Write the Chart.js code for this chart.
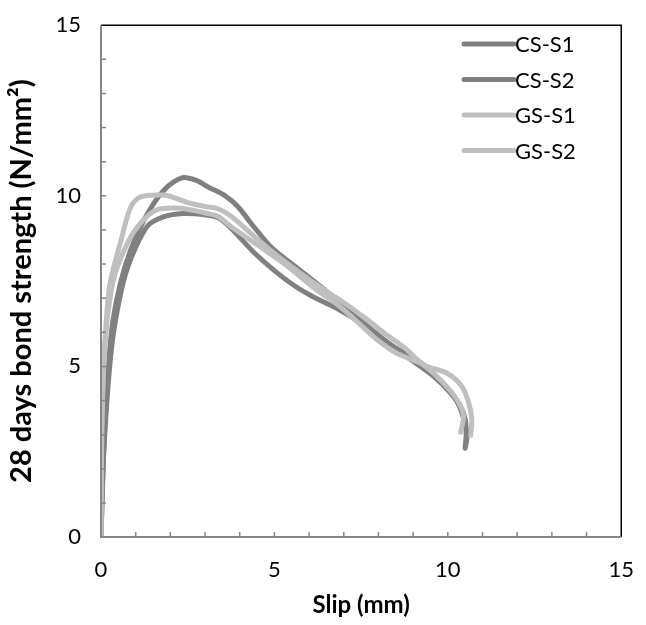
<!DOCTYPE html>
<html>
<head>
<meta charset="UTF-8">
<title>Bond strength vs slip</title>
<script src="https://cdn.jsdelivr.net/npm/chart.js@4.4.0/dist/chart.umd.min.js"></script>
<style>
  body { margin: 0; background: #fff; }
</style>
</head>
<body>
<canvas id="grafica" width="646" height="625"></canvas>
<script>
// slip (mm) and bond strength (N/mm2)
const slipCS1 = [0, 0.1, 0.3, 0.55, 0.85, 1.3, 1.8, 2.35, 2.75, 3.1, 3.55, 3.95, 4.4, 4.95, 5.7, 6.5, 7.3, 8.2, 9.0, 9.6, 10.08, 10.36, 10.5, 10.53, 10.5];
const bondCS1 = [0, 3.0, 6.0, 7.4, 8.4, 9.4, 10.15, 10.53, 10.45, 10.25, 10.02, 9.68, 9.1, 8.45, 7.85, 7.2, 6.5, 5.75, 5.15, 4.7, 4.22, 3.84, 3.46, 3.0, 2.65];

const slipCS2 = [0, 0.08, 0.3, 0.58, 0.86, 1.33, 1.8, 2.37, 3.03, 3.4, 3.75, 4.41, 5.07, 5.6, 6.1, 6.8, 7.6, 8.4, 9.3, 9.9, 10.3, 10.5, 10.55, 10.5];
const bondCS2 = [0, 2.5, 5.5, 7.2, 8.15, 9.1, 9.38, 9.48, 9.44, 9.35, 9.05, 8.34, 7.75, 7.35, 7.05, 6.7, 6.2, 5.6, 5.05, 4.45, 3.9, 3.3, 2.9, 2.6];

const slipGS1 = [0, 0.02, 0.08, 0.24, 0.58, 0.86, 1.14, 1.8, 2.18, 2.5, 3.03, 3.37, 3.75, 4.41, 5.07, 5.83, 6.5, 7.1, 7.7, 8.2, 8.75, 9.32, 9.98, 10.4, 10.6, 10.69, 10.66];
const bondGS1 = [0, 3.0, 5.0, 7.3, 8.7, 9.68, 9.97, 10.02, 9.92, 9.8, 9.68, 9.62, 9.4, 8.82, 8.25, 7.67, 7.2, 6.8, 6.35, 5.95, 5.55, 5.04, 4.8, 4.42, 3.94, 3.46, 2.98];

const slipGS2 = [0, 0.02, 0.1, 0.35, 0.77, 1.14, 1.61, 2.18, 2.56, 3.03, 3.37, 3.75, 4.41, 5.35, 6.2, 6.9, 7.5, 8.0, 8.5, 9.0, 9.3, 9.79, 10.26, 10.45, 10.37];
const bondGS2 = [0, 3.0, 5.5, 7.5, 8.63, 9.2, 9.59, 9.64, 9.59, 9.49, 9.4, 9.1, 8.63, 7.96, 7.25, 6.75, 6.2, 5.75, 5.4, 5.18, 5.04, 4.6, 4.03, 3.56, 3.07];

const seriesNames = ['CS-S1', 'CS-S2', 'GS-S1', 'GS-S2'];
const axisTicks = [0, 5, 10, 15];

const oscuro = 'rgb(128, 128, 128)';
const claro = 'rgb(191, 191, 191)';
const fuente = 'Lato, "Open Sans", sans-serif';

function puntos(xs, ys) {
    return xs.map((x, i) => ({x: x, y: ys[i]}));
}

const series = [
    {label: seriesNames[0], data: puntos(slipCS1, bondCS1), color: oscuro},
    {label: seriesNames[1], data: puntos(slipCS2, bondCS2), color: oscuro},
    {label: seriesNames[2], data: puntos(slipGS1, bondGS1), color: claro},
    {label: seriesNames[3], data: puntos(slipGS2, bondGS2), color: claro}
];

// frame, inside tick marks and the legend inside the plot
const marco = {
    id: 'marco',
    afterDatasetsDraw(chart) {
        const ctx = chart.ctx;
        const a = chart.chartArea;
        const sx = chart.scales.x, sy = chart.scales.y;
        ctx.save();
        ctx.lineCap = 'butt';
        ctx.strokeStyle = '#000';
        ctx.lineWidth = 1.5;
        ctx.beginPath();
        ctx.moveTo(a.left, a.top);
        ctx.lineTo(a.right, a.top);
        ctx.lineTo(a.right, a.bottom);
        ctx.stroke();

        ctx.strokeStyle = '#868686';
        ctx.lineWidth = 2;
        ctx.beginPath();
        ctx.moveTo(a.left, a.top);
        ctx.lineTo(a.left, a.bottom);
        ctx.lineTo(a.right, a.bottom);
        ctx.stroke();

        ctx.lineWidth = 1.5;
        ctx.beginPath();
        for (let v = 1; v < 15; v++) {
            const px = sx.getPixelForValue(v);
            ctx.moveTo(px, a.bottom);
            ctx.lineTo(px, a.bottom - 5);
            const py = sy.getPixelForValue(v);
            ctx.moveTo(a.left, py);
            ctx.lineTo(a.left + 5, py);
        }
        ctx.stroke();

        // legend
        ctx.font = '22px ' + fuente;
        ctx.textBaseline = 'middle';
        ctx.textAlign = 'left';
        ctx.lineCap = 'round';
        ctx.lineWidth = 5;
        chart.data.datasets.forEach((ds, i) => {
            const y = 44 + i * 35.5;
            ctx.strokeStyle = ds.borderColor;
            ctx.beginPath();
            ctx.moveTo(464, y);
            ctx.lineTo(514, y);
            ctx.stroke();
            ctx.fillStyle = '#000';
            ctx.fillText(ds.label, 515, y + 1);
        });
        ctx.restore();
    }
};

new Chart(document.getElementById('grafica').getContext('2d'), {
    type: 'scatter',
    data: {
        datasets: series.map((s, i) => ({
            label: s.label,
            data: s.data,
            showLine: true,
            borderColor: s.color,
            backgroundColor: s.color,
            borderWidth: 5,
            pointRadius: 0,
            tension: 0.3,
            borderCapStyle: 'round',
            borderJoinStyle: 'round',
            order: 4 - i
        }))
    },
    options: {
        responsive: false,
        animation: false,
        layout: {padding: {top: 15, right: 16, left: 0, bottom: 0}},
        scales: {
            x: {
                type: 'linear',
                min: 0,
                max: 15,
                afterBuildTicks: s => { s.ticks = axisTicks.map(v => ({value: v})); },
                afterFit: s => { s.height = 88; },
                grid: {display: false},
                border: {display: false},
                ticks: {color: '#000', font: {size: 22, family: fuente}, padding: 12, maxRotation: 0},
                title: {
                    display: true,
                    text: 'Slip (mm)',
                    color: '#000',
                    font: {size: 24, weight: 'bold', family: fuente},
                    padding: {top: 5, bottom: 5}
                }
            },
            y: {
                type: 'linear',
                min: 0,
                max: 15,
                afterBuildTicks: s => { s.ticks = axisTicks.map(v => ({value: v})); },
                afterFit: s => { s.width = 101; },
                grid: {display: false},
                border: {display: false},
                ticks: {color: '#000', font: {size: 22, family: fuente}, padding: 12},
                title: {
                    display: true,
                    text: '28 days bond strength (N/mm²)',
                    color: '#000',
                    font: {size: 29, weight: 'bold', family: fuente},
                    padding: {top: 4, bottom: 0}
                }
            }
        },
        plugins: {
            legend: {display: false},
            tooltip: {enabled: false}
        }
    },
    plugins: [marco]
});
</script>
</body>
</html>
